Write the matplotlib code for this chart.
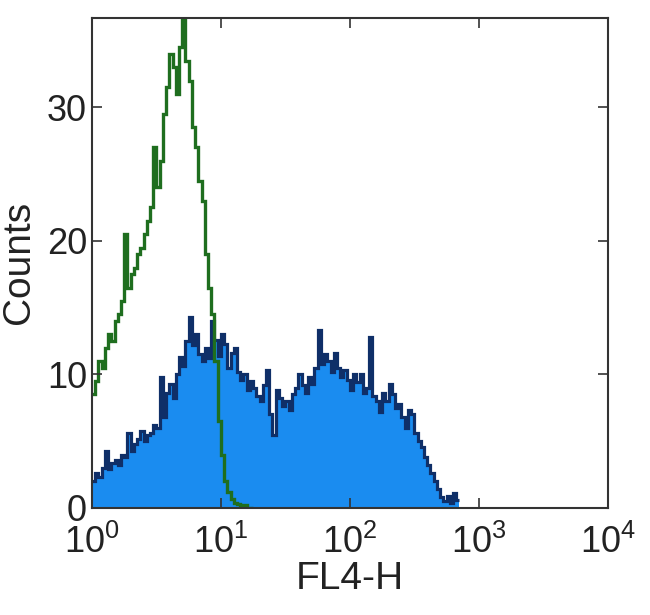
import numpy as np
import matplotlib
matplotlib.use("Agg")
import matplotlib.pyplot as plt

# bin width in decades (FL4-H log scale)
bin_step = 0.025

# control (green outline), counts per bin starting at 10^0
green_counts = [8.5, 9.5, 11.0, 10.5, 12.0, 13.0, 12.5, 14.0, 14.5, 15.5,
                20.5, 16.5, 17.5, 18.0, 19.0, 19.5, 20.5, 21.5, 22.5, 27.0,
                24.0, 26.0, 29.5, 31.5, 34.0, 33.0, 31.0, 34.5, 37.0, 33.5,
                32.0, 28.5, 27.0, 24.5, 23.0, 19.0, 16.5, 14.5, 11.0, 6.5,
                4.0, 2.0, 1.2, 0.7, 0.4, 0.3, 0.1, 0.2, 0.0, 0.0]

# stained sample (blue filled), counts per bin starting at 10^0
blue_counts = [2.0, 2.6, 2.3, 3.0, 4.3, 2.9, 3.4, 3.6, 3.2, 4.0,
               3.8, 5.6, 4.3, 4.8, 5.2, 5.8, 5.0, 5.5, 5.6, 6.2,
               6.0, 9.8, 6.8, 8.6, 9.3, 8.2, 10.0, 11.3, 10.6, 12.5,
               14.3, 12.2, 13.0, 11.5, 11.0, 12.0, 11.2, 14.0, 12.6, 11.4,
               13.0, 12.3, 10.5, 11.6, 12.0, 10.2, 9.6, 10.0, 8.8, 9.5,
               9.0, 8.4, 8.0, 9.2, 10.3, 7.0, 5.5, 8.8, 8.2, 7.6,
               8.0, 7.3, 8.5, 9.0, 10.0, 9.2, 8.6, 9.8, 9.3, 10.5,
               13.3, 10.8, 11.5, 11.0, 10.2, 11.6, 10.5, 9.8, 10.3, 9.6,
               8.8, 10.0, 9.4, 10.0, 8.6, 9.0, 12.8, 8.4, 8.0, 7.2,
               8.6, 8.0, 9.3, 8.5, 7.5, 7.8, 6.8, 6.0, 7.3, 7.0,
               5.6, 5.0, 4.6, 3.8, 3.2, 2.6, 2.0, 1.4, 0.8, 0.5,
               0.9, 0.4, 1.1, 0.6]

x_ticks = [1, 10, 100, 1000, 10000]
y_ticks = [0, 10, 20, 30]

green_edges = 10 ** (np.arange(len(green_counts) + 1) * bin_step)
blue_edges = 10 ** (np.arange(len(blue_counts) + 1) * bin_step)

plt.rcParams["font.family"] = ["Liberation Sans", "DejaVu Sans"]
plt.rcParams["mathtext.fontset"] = "custom"
plt.rcParams["mathtext.rm"] = "Liberation Sans"

fig = plt.figure(figsize=(6.5, 6.15), dpi=100)
ax = fig.add_axes([0.1415, 0.174, 0.7935, 0.797])

ax.stairs(blue_counts, blue_edges, fill=True, color="#1a8cf0", baseline=0)
ax.stairs(blue_counts, blue_edges, color="#0f2f68", lw=2.3, baseline=None)
ax.stairs(green_counts, green_edges, color="#1f6e1f", lw=2.4, baseline=None)

ax.set_xscale("log")
ax.set_xlim(1, 10000)
ax.set_ylim(0, 36.7)
ax.set_xticks(x_ticks)
ax.set_yticks(y_ticks)
ax.minorticks_off()

ax.tick_params(direction="in", length=7, width=1.2, top=True, right=True,
               labelsize=26, colors="#333333", labelcolor="#222222")
ax.tick_params(axis="x", pad=12)
ax.tick_params(axis="y", pad=3.5)
for s in ax.spines.values():
    s.set_color("#333333")
    s.set_linewidth(1.5)

ax.set_xlabel("FL4-H", fontsize=28, color="#222222", labelpad=0)
ax.set_ylabel("Counts", fontsize=28, color="#222222", labelpad=7)

fig.savefig("out.png", dpi=100)
